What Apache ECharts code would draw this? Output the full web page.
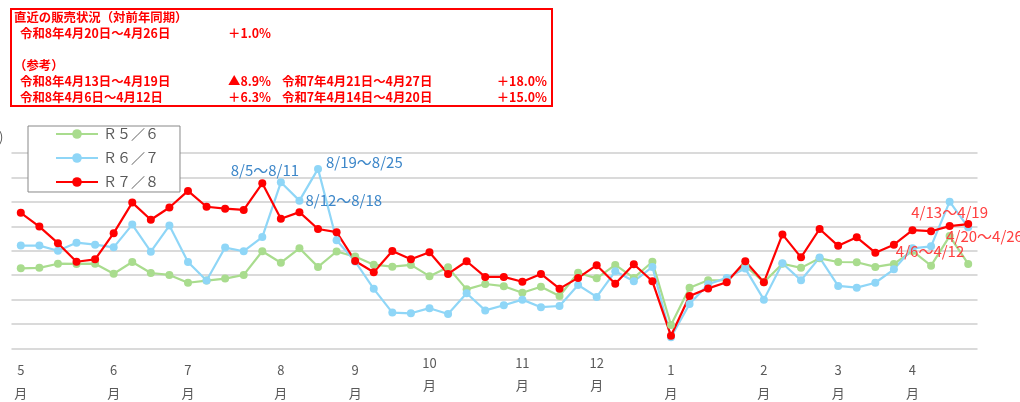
<!DOCTYPE html>
<html>
<head>
<meta charset="utf-8">
<script src="https://cdn.jsdelivr.net/npm/echarts@6/dist/echarts.min.js"></script>
<style>
    body { margin: 0; background: #fff; }
    #chart { width: 1020px; height: 402px; }
</style>
</head>
<body>
<div id="chart"></div>
<script>
// week start dates (R7/8)
var weeks = ['4/28', '5/5', '5/12', '5/19', '5/26', '6/2', '6/9', '6/16', '6/23', '6/30',
    '7/7', '7/14', '7/21', '7/28', '8/4', '8/11', '8/18', '8/25', '9/1', '9/8',
    '9/15', '9/22', '9/29', '10/6', '10/13', '10/20', '10/27', '11/3', '11/10', '11/17',
    '11/24', '12/1', '12/8', '12/15', '12/22', '12/29', '1/5', '1/12', '1/19', '1/26',
    '2/2', '2/9', '2/16', '2/23', '3/2', '3/9', '3/16', '3/23', '3/30', '4/6',
    '4/13', '4/20'];

// first week of each month on the axis
var monthWeeks = ['4/28', '6/2', '6/30', '8/4', '9/1', '9/29', '11/3', '12/1', '12/29', '2/2', '3/2', '3/30'];
var monthNames = ['5', '6', '7', '8', '9', '10', '11', '12', '1', '2', '3', '4'];

var seriesNames = ['Ｒ５／６', 'Ｒ６／７', 'Ｒ７／８'];

var r5 = [32.8, 33.0, 34.7, 34.6, 34.7, 30.6, 35.4, 30.9, 30.1, 26.9,
    27.8, 28.6, 30.1, 39.8, 35.1, 41.0, 33.4, 39.7, 37.6, 34.3,
    33.5, 34.2, 29.6, 33.2, 24.2, 26.4, 25.5, 22.8, 25.3, 21.5,
    31.0, 28.7, 34.2, 28.9, 35.5, 9.6, 24.9, 27.9, 28.0, 33.9,
    27.1, 34.7, 33.0, 36.9, 35.4, 35.3, 33.4, 34.6, 39.9, 33.9,
    46.0, 34.6];

var r6 = [42.1, 42.1, 40.0, 43.3, 42.5, 41.4, 50.7, 39.6, 50.3, 35.4,
    27.8, 41.3, 39.8, 45.6, 68.0, 60.5, 73.5, 44.3, 35.6, 24.4,
    14.7, 14.4, 16.5, 14.1, 22.6, 15.6, 17.7, 20.0, 16.9, 17.4,
    26.0, 21.1, 31.6, 27.5, 33.4, 4.6, 18.2, 26.3, 28.9, 32.7,
    20.0, 34.9, 27.9, 37.2, 25.6, 24.9, 26.9, 32.4, 41.0, 41.8,
    60.1, 49.6];

var r7 = [55.5, 49.9, 43.1, 35.5, 36.5, 47.2, 59.7, 52.7, 57.7, 64.5,
    58.0, 57.2, 56.7, 67.6, 53.1, 55.8, 48.9, 47.6, 35.8, 31.2,
    39.9, 36.5, 39.4, 30.5, 35.7, 29.3, 29.3, 27.3, 30.5, 24.5,
    28.9, 34.1, 26.5, 34.5, 27.5, 5.2, 21.5, 24.6, 27.1, 35.7,
    27.1, 46.7, 37.3, 48.9, 42.0, 45.5, 39.2, 42.5, 48.4, 48.0,
    50.1, 50.9];

// point notes
var r6Notes = { '8/4': '8/5～8/11', '8/11': '8/12～8/18', '8/18': '8/19～8/25' };
var r7Notes = { '4/6': '4/6～4/12', '4/13': '4/13～4/19', '4/20': '4/20～4/26' };

// header box texts
var headTitle = '直近の販売状況（対前年同期）';
var headLatest = ['令和8年4月20日～4月26日', '＋1.0%'];
var refTitle = '（参考）';
var refRows = [
    ['令和8年4月13日～4月19日', '▲8.9%', '令和7年4月21日～4月27日', '＋18.0%'],
    ['令和8年4月6日～4月12日', '＋6.3%', '令和7年4月14日～4月20日', '＋15.0%']
];

var FONT = '"Noto Sans CJK JP", "Noto Sans", sans-serif';

var notePlace = {
    '8/4': { position: 'top', offset: [-16, 4] },
    '8/11': { position: 'right', distance: 2, offset: [0, 0] },
    '8/18': { position: 'right', distance: 4, offset: [0, -7] },
    '4/6': { position: 'bottom', offset: [-1, 4] },
    '4/13': { position: 'top', offset: [0, 3] },
    '4/20': { position: 'right', offset: [-31, 12] }
};

var withNotes = function(values, notes, color) {
    return values.map(function(v, i) {
        var w = weeks[i];
        if (!notes[w]) return v;
        var p = notePlace[w];
        return {
            value: v,
            label: {
                show: true,
                formatter: notes[w],
                position: p.position,
                distance: p.distance == null ? 5 : p.distance,
                offset: p.offset,
                color: color,
                fontSize: 15,
                fontFamily: FONT
            }
        };
    });
};

var headerGraphics = function() {
    var red = '#ff0000';
    var txt = function(x, y, s, align) {
        return {
            type: 'text', x: x, y: y,
            style: {
                text: s, fill: red, font: 'bold 12.4px ' + FONT,
                textAlign: align || 'left', textVerticalAlign: 'middle'
            }
        };
    };
    var g = [{
        type: 'rect',
        shape: { x: 11, y: 9, width: 541, height: 97 },
        style: { fill: '#fff', stroke: red, lineWidth: 2 }
    }];
    g.push(txt(14, 17, headTitle));
    g.push(txt(20, 33, headLatest[0]));
    g.push(txt(271, 33, headLatest[1], 'right'));
    g.push(txt(14, 65, refTitle));
    refRows.forEach(function(r, k) {
        var y = 81 + k * 16.5;
        g.push(txt(20, y, r[0]));
        g.push(txt(271, y, r[1], 'right'));
        g.push(txt(282, y, r[2]));
        g.push(txt(547, y, r[3], 'right'));
    });
    g.push({
        type: 'text', x: -1, y: 137,
        style: { text: ')', fill: '#595959', font: '13px ' + FONT, textVerticalAlign: 'middle' }
    });
    return g;
};

var colors = ['#a9dc8e', '#8fd6f7', '#ff0000'];

var option = {
    animation: false,
    color: colors,
    grid: { left: 11.5, right: 42.5, top: 153, bottom: 53.5 },
    legend: {
        orient: 'vertical',
        left: 28,
        top: 126,
        itemWidth: 42,
        itemHeight: 12,
        itemGap: 10,
        padding: [1, 21, 3, 27],
        backgroundColor: '#fff',
        borderColor: '#888',
        borderWidth: 1,
        borderRadius: 0,
        textStyle: { fontSize: 14, color: '#595959', fontFamily: FONT },
        data: seriesNames
    },
    xAxis: {
        type: 'category',
        data: weeks,
        boundaryGap: true,
        axisLine: { show: false },
        axisTick: { show: false },
        axisLabel: {
            margin: 4,
            interval: function(i, w) { return monthWeeks.indexOf(w) >= 0; },
            formatter: function(w) {
                var m = monthNames[monthWeeks.indexOf(w)];
                if (m.length > 1) return '{d2|' + m + '}\n{m2|月}';
                return '{d1|' + m + '}\n{m1|月}';
            },
            color: '#595959',
            fontFamily: FONT,
            rich: {
                d1: { lineHeight: 36, fontSize: 13, color: '#595959', fontFamily: FONT },
                m1: { lineHeight: 10, fontSize: 13, color: '#595959', fontFamily: FONT },
                d2: { lineHeight: 22, fontSize: 13, color: '#595959', fontFamily: FONT },
                m2: { lineHeight: 22, fontSize: 13, color: '#595959', fontFamily: FONT }
            }
        }
    },
    yAxis: {
        type: 'value',
        min: 0,
        max: 80,
        interval: 10,
        axisLabel: { show: false },
        axisLine: { show: false },
        axisTick: { show: false },
        splitLine: { lineStyle: { color: '#dadada', width: 2 } }
    },
    graphic: headerGraphics(),
    series: [{
        name: seriesNames[0],
        type: 'line',
        data: r5,
        symbol: 'circle',
        symbolSize: 8,
        lineStyle: { width: 2.2 }
    }, {
        name: seriesNames[1],
        type: 'line',
        data: withNotes(r6, r6Notes, '#3d87c9'),
        symbol: 'circle',
        symbolSize: 8,
        lineStyle: { width: 2.2 }
    }, {
        name: seriesNames[2],
        type: 'line',
        data: withNotes(r7, r7Notes, '#ff4040'),
        symbol: 'circle',
        symbolSize: 8,
        lineStyle: { width: 2.2 }
    }]
};

echarts.init(document.getElementById('chart')).setOption(option);
</script>
</body>
</html>
